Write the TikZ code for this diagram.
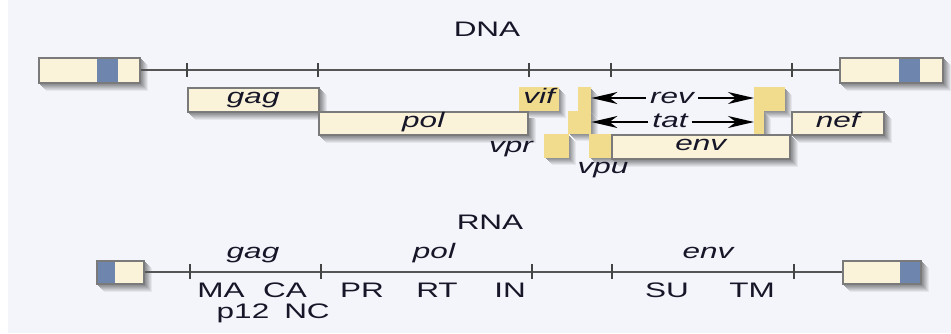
\documentclass[tikz,border=0pt]{standalone}
\usepackage{fontspec}
\usepackage{graphicx}
\setmainfont{Liberation Sans}
\usetikzlibrary{arrows.meta}
\definecolor{panel}{HTML}{F3F5FA}
\definecolor{cream}{HTML}{FAF2D9}
\definecolor{ltrblue}{HTML}{6E86AD}
\definecolor{accy}{HTML}{F1DC8E}
\definecolor{boxline}{HTML}{7A7A7A}
\definecolor{axis}{HTML}{555555}
\definecolor{ink}{HTML}{161628}
\pgfdeclarelayer{bglayer}
\pgfdeclarelayer{shadowlayer}
\pgfsetlayers{bglayer,shadowlayer,main}
\newcommand{\wtxt}[1]{\scalebox{1.5}[1]{#1}}
\tikzset{
  genebox/.style={draw=boxline, line width=1.5pt, fill=cream, inner sep=0pt, anchor=north west, text=ink,
    text height=12pt, text depth=4pt, font=\fontsize{21}{23}\selectfont\itshape},
  accbox/.style={fill=accy, inner sep=0pt, anchor=north west, text=ink,
    text height=12pt, text depth=4pt, font=\fontsize{21}{23}\selectfont\itshape},
  ltrbox/.style={draw=boxline, line width=1.5pt, fill=cream, inner sep=0pt, anchor=north west},
  lab/.style={text=ink, inner sep=0pt, anchor=base, font=\fontsize{21}{23}\selectfont},
  ilab/.style={lab, font=\fontsize{21}{23}\selectfont\itshape},
  arrlab/.style={text=ink, inner ysep=0pt, inner xsep=4pt, text height=10pt, text depth=0pt, font=\fontsize{21}{23}\selectfont\itshape},
  axisline/.style={draw=axis, line width=2.2pt},
  tickline/.style={draw=axis!80!black, line width=1.6pt},
  dblarrow/.style={draw=black, line width=1.8pt, -{Stealth[length=26pt,width=12pt,inset=8pt]}},
}
\begin{document}
\begin{tikzpicture}[x=1pt,y=-1pt]
\useasboundingbox (0,0) rectangle (951,333);
\begin{pgfonlayer}{bglayer}
\fill[white] (0,0) rectangle (951,333);
\fill[panel] (8,0) rectangle (951,333);
\end{pgfonlayer}

% ---------------- DNA ----------------
\node[lab] (dnatitle) at (487,36) {\wtxt{DNA}};

\node[ltrbox, minimum width=101pt, minimum height=25pt,
  path picture={\fill[ltrblue] ([xshift=58pt]path picture bounding box.north west) rectangle ([xshift=79pt]path picture bounding box.south west);}]
  (ltrA) at (38,57) {};
\node[ltrbox, minimum width=103pt, minimum height=25pt,
  path picture={\fill[ltrblue] ([xshift=59pt]path picture bounding box.north west) rectangle ([xshift=80pt]path picture bounding box.south west);}]
  (ltrB) at (839,57) {};
\draw[axisline] (ltrA.east) -- (ltrB.west);
\foreach \t in {187,318,529,611,792} \draw[tickline] (\t,63) -- (\t,77);

% genes
\node[genebox, minimum width=131pt, minimum height=24pt] (gag) at (187,87) {\wtxt{gag}};
\node[genebox, minimum width=209pt, minimum height=23pt] (pol) at (318,111) {\wtxt{pol}};
\node[accbox, minimum width=40pt, minimum height=24pt] (vif) at (519,87) {\wtxt{vif}};

\node[accbox, minimum width=13pt, minimum height=24pt] (revL) at (578,87) {};
\node[accbox, minimum width=23pt, minimum height=23pt] (tatL) at (568,111) {};
\node[accbox, minimum width=25pt, minimum height=24pt] (vpr) at (544,134) {};
\node[accbox, minimum width=22pt, minimum height=24pt] (vpu) at (589,134) {};

\node[accbox, minimum width=31pt, minimum height=24pt] (revR) at (754,87) {};
\node[accbox, minimum width=10pt, minimum height=23pt] (tatR) at (754,111) {};

\node[genebox, minimum width=178pt, minimum height=24pt] (env) at (611,134) {\wtxt{env}};
\node[genebox, minimum width=92pt, minimum height=23pt] (nef) at (791,111) {\wtxt{nef}};

\node[ilab, anchor=base east] (vprlab) at (533,152) {\wtxt{vpr}};
\node[ilab] (vpulab) at (603,173) {\wtxt{vpu}};

\node[arrlab] (revlab) at (672,98) {\wtxt{rev}};
\node[arrlab] (tatlab) at (670,122) {\wtxt{tat}};
\draw[dblarrow] (revlab.west) -- (revL.east |- revlab.center);
\draw[dblarrow] (revlab.east) -- (revR.west |- revlab.center);
\draw[dblarrow] (tatlab.west) -- (tatL.east |- tatlab.center);
\draw[dblarrow] (tatlab.east) -- (tatR.west |- tatlab.center);

% ---------------- RNA ----------------
\node[lab] (rnatitle) at (490,229) {\wtxt{RNA}};

\node[ltrbox, minimum width=47pt, minimum height=23pt,
  path picture={\fill[ltrblue] (path picture bounding box.north west) rectangle ([xshift=18pt]path picture bounding box.south west);}]
  (ltrC) at (96,260) {};
\node[ltrbox, minimum width=78pt, minimum height=23pt,
  path picture={\fill[ltrblue] ([xshift=57pt]path picture bounding box.north west) rectangle (path picture bounding box.south east);}]
  (ltrD) at (842,260) {};
\draw[axisline] (ltrC.east) -- (ltrD.west);
\foreach \t in {190,321,532,612,794} \draw[tickline] (\t,264) -- (\t,279);

\node[ilab] (rgag) at (253,258) {\wtxt{gag}};
\node[ilab] (rpol) at (434,258) {\wtxt{pol}};
\node[ilab] (renv) at (708,258) {\wtxt{env}};

\node[lab] (ma) at (221,297) {\wtxt{MA}};
\node[lab] (ca) at (285,297) {\wtxt{CA}};
\node[lab] (p12) at (243,318) {\wtxt{p12}};
\node[lab] (nc) at (307,318) {\wtxt{NC}};
\node[lab] (pr) at (362,297) {\wtxt{PR}};
\node[lab] (rt) at (437,297) {\wtxt{RT}};
\node[lab] (in) at (510,297) {\wtxt{IN}};
\node[lab] (su) at (667,297) {\wtxt{SU}};
\node[lab] (tm) at (752,297) {\wtxt{TM}};

% ---------------- soft shadows ----------------
\begin{pgfonlayer}{shadowlayer}
\foreach \nn in {ltrA,ltrB,ltrC,ltrD,gag,pol,vif,revL,tatL,vpr,vpu,revR,tatR,env,nef}{
  \foreach \sh/\cc in {9/94,8/88,7/82,6/76,5/70,4/64,3/60}{
    \fill[panel!\cc!black] ([shift={(\sh pt-1pt,-\sh pt+1pt)}]\nn.north west) rectangle ([shift={(\sh pt-2pt,-\sh pt+2pt)}]\nn.south east);
  }
}
\end{pgfonlayer}
\end{tikzpicture}
\end{document}
